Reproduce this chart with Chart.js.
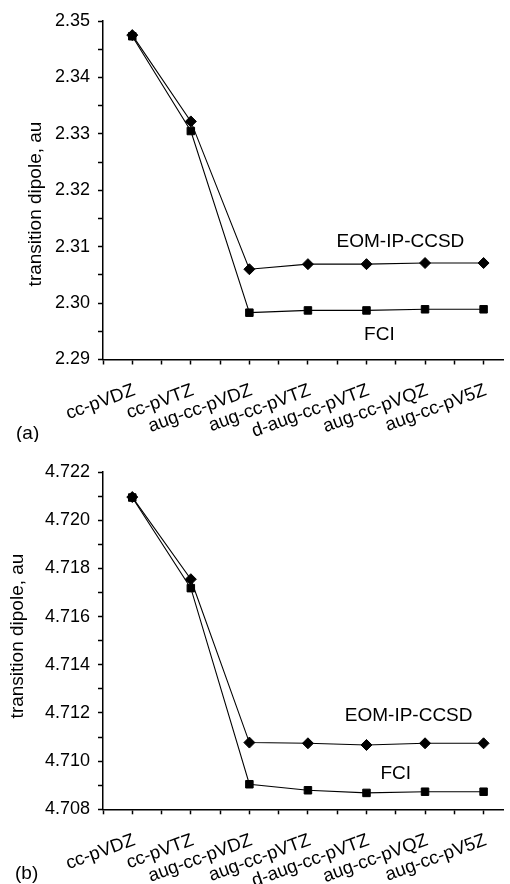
<!DOCTYPE html>
<html>
<head>
<meta charset="utf-8">
<script src="https://cdn.jsdelivr.net/npm/chart.js@4.4.1/dist/chart.umd.min.js"></script>
<style>
  html, body { margin: 0; padding: 0; background: #fff; }
  .panel { width: 510px; height: 442px; }
</style>
</head>
<body>
<div class="panel"><canvas id="chartA" width="510" height="442"></canvas></div>
<div class="panel"><canvas id="chartB" width="510" height="442"></canvas></div>
<script>
// basis sets along the x axis
const basisSets = ['cc-pVDZ', 'cc-pVTZ', 'aug-cc-pVDZ', 'aug-cc-pVTZ', 'd-aug-cc-pVTZ', 'aug-cc-pVQZ', 'aug-cc-pV5Z'];

// panel (a)
const eomA = [2.3475, 2.3322, 2.3060, 2.3069, 2.3069, 2.3071, 2.3071];
const fciA = [2.3473, 2.3305, 2.2983, 2.2987, 2.2987, 2.2989, 2.2989];
const yTicksA = [2.29, 2.30, 2.31, 2.32, 2.33, 2.34, 2.35];

// panel (b)
const eomB = [4.72096, 4.71755, 4.71077, 4.71074, 4.71067, 4.71074, 4.71074];
const fciB = [4.72094, 4.71718, 4.70904, 4.70879, 4.70868, 4.70873, 4.70873];
const yTicksB = [4.708, 4.710, 4.712, 4.714, 4.716, 4.718, 4.720, 4.722];

const FONT = '"Liberation Sans", Arial, sans-serif';

// text drawn on top: axis title, panel letter, curve names
const annotate = (cfg) => ({
    id: 'annotate',
    afterDraw(chart) {
        const { ctx, scales: { x, y } } = chart;
        ctx.save();
        ctx.fillStyle = '#000';
        ctx.font = '19px ' + FONT;

        // y axis title
        ctx.save();
        ctx.translate(cfg.titleX, cfg.titleY);
        ctx.rotate(-Math.PI / 2);
        ctx.textAlign = 'center';
        ctx.textBaseline = 'middle';
        ctx.fillText('transition dipole, au', 0, 0);
        ctx.restore();

        // panel letter
        ctx.textAlign = 'left';
        ctx.textBaseline = 'alphabetic';
        ctx.fillText(cfg.letter, cfg.letterX, cfg.letterY);

        // curve names
        ctx.textAlign = 'center';
        cfg.notes.forEach(n => {
            ctx.fillText(n.text, x.getPixelForValue(n.x), y.getPixelForValue(n.y));
        });
        ctx.restore();
    }
});

const makeChart = (id, eom, fci, yTicks, decimals, cfg) => {
    const xTicks = [];
    for (let i = -1; i <= 12; i++) xTicks.push(i / 2);

    const yStep = yTicks[1] - yTicks[0];
    const yAll = [];
    yTicks.forEach((v, i) => {
        yAll.push(v);
        if (i < yTicks.length - 1) yAll.push(v + yStep / 2);
    });
    const isMajor = v => yTicks.some(t => Math.abs(t - v) < yStep / 10);

    return new Chart(document.getElementById(id), {
        type: 'line',
        data: {
            datasets: [
                {
                    label: 'EOM-IP-CCSD',
                    data: eom.map((v, i) => ({ x: i, y: v })),
                    borderColor: '#000',
                    backgroundColor: '#000',
                    borderWidth: 1.1,
                    pointStyle: 'rectRot',
                    pointRadius: 5.5,
                    pointBorderWidth: 1,
                    tension: 0
                },
                {
                    label: 'FCI',
                    data: fci.map((v, i) => ({ x: i, y: v })),
                    borderColor: '#000',
                    backgroundColor: '#000',
                    borderWidth: 1.1,
                    pointStyle: 'rect',
                    pointRadius: 5.3,
                    pointBorderWidth: 1,
                    tension: 0
                }
            ]
        },
        options: {
            responsive: false,
            animation: false,
            devicePixelRatio: 1,
            layout: { padding: { top: cfg.top, right: 0, bottom: 0, left: 0 } },
            plugins: { legend: { display: false }, tooltip: { enabled: false } },
            scales: {
                x: {
                    type: 'linear',
                    min: -0.5,
                    max: 6.34,
                    afterBuildTicks: s => { s.ticks = xTicks.map(v => ({ value: v })); },
                    afterFit: s => { s.height = cfg.xHeight; s.paddingLeft = 0; s.paddingRight = 0; },
                    ticks: {
                        autoSkip: false,
                        minRotation: 20,
                        maxRotation: 20,
                        padding: 15,
                        labelOffset: 2,
                        color: '#000',
                        font: { family: FONT, size: 18.5 },
                        callback: v => Number.isInteger(v) && v >= 0 ? basisSets[v] : ''
                    },
                    grid: { drawOnChartArea: false, tickLength: 5, tickColor: '#000', tickWidth: 1.5 },
                    border: { color: '#000', width: 1.5 }
                },
                y: {
                    type: 'linear',
                    min: yTicks[0],
                    max: yTicks[yTicks.length - 1],
                    afterBuildTicks: s => { s.ticks = yAll.map(v => ({ value: v })); },
                    afterFit: s => { s.width = 103; s.paddingTop = 0; s.paddingBottom = 0; },
                    ticks: {
                        autoSkip: false,
                        padding: 8,
                        color: '#000',
                        font: { family: FONT, size: 18 },
                        callback: v => isMajor(v) ? v.toFixed(decimals) : ''
                    },
                    grid: { drawOnChartArea: false, tickLength: 5, tickColor: '#000', tickWidth: 1.5 },
                    border: { color: '#000', width: 1.5 }
                }
            }
        },
        plugins: [annotate(cfg)]
    });
};

makeChart('chartA', eomA, fciA, yTicksA, 2, {
    top: 21, xHeight: 82.5,
    titleX: 36, titleY: 204,
    letter: '(a)', letterX: 16, letterY: 439,
    notes: [
        { text: 'EOM-IP-CCSD', x: 4.58, y: 2.3099 },
        { text: 'FCI', x: 4.22, y: 2.2935 }
    ]
});

makeChart('chartB', eomB, fciB, yTicksB, 3, {
    top: 30, xHeight: 74.7,
    titleX: 18, titleY: 194,
    letter: '(b)', letterX: 15, letterY: 437,
    notes: [
        { text: 'EOM-IP-CCSD', x: 4.72, y: 4.71165 },
        { text: 'FCI', x: 4.5, y: 4.70925 }
    ]
});
</script>
</body>
</html>
